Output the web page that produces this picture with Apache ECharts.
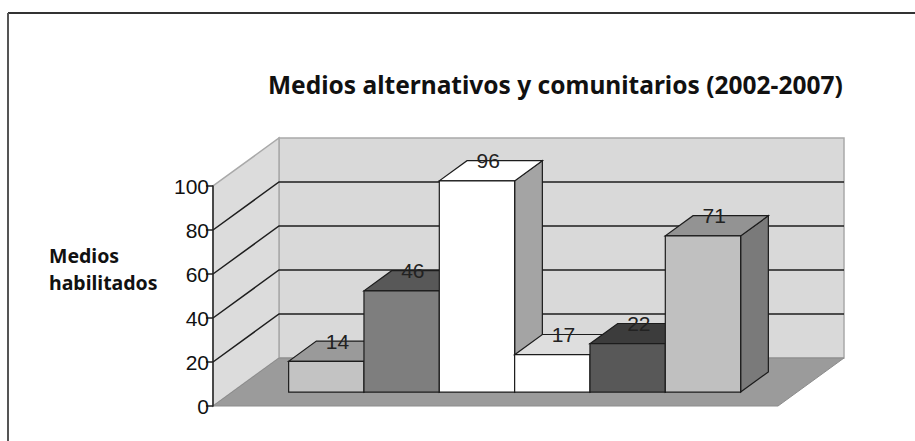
<!DOCTYPE html>
<html><head><meta charset="utf-8">
<script src="https://cdn.jsdelivr.net/npm/echarts@6/dist/echarts.min.js"></script>
<style>html,body{margin:0;padding:0;background:#fff}#c{width:915px;height:441px}</style>
</head><body><div id="c"></div>
<script>
// ---- data ----
const chartTitle = 'Medios alternativos y comunitarios (2002-2007)';
const yAxisTitle = ['Medios', 'habilitados'];
const categories = ['2002', '2003', '2004', '2005', '2006', '2007'];
const values = [14, 46, 96, 17, 22, 71];
const yMin = 0, yMax = 100, yStep = 20;

// ---- styles ----
const frontColors = ['#c3c3c3', '#7e7e7e', '#ffffff', '#ffffff', '#585858', '#c0c0c0'];
const topColors   = ['#9a9a9a', '#585858', '#ffffff', '#dedede', '#3c3c3c', '#939393'];
const sideColors  = ['#8a8a8a', '#4a4a4a', '#a4a4a4', '#b0b0b0', '#333333', '#7a7a7a'];

const DX = 66, DY = -48;      // projected offset of full depth
const D0 = 0.29, D1 = 0.71;   // bar depth range
const X_MIN = -1.25, X_MAX = 6.25;

function proj(api, x, v, d) {
  const p = api.coord([x, v]);
  return [p[0] + DX * d, p[1] + DY * d];
}

function renderFrame(params, api) {
  const ch = [];
  const A = proj(api, X_MIN, yMin, 0), B = proj(api, X_MIN, yMin, 1);
  const C = proj(api, X_MAX, yMin, 1), E = proj(api, X_MAX, yMin, 0);
  const At = proj(api, X_MIN, yMax, 0), Bt = proj(api, X_MIN, yMax, 1), Ct = proj(api, X_MAX, yMax, 1);
  ch.push({type: 'polygon', shape: {points: [B, Bt, Ct, C]}, style: {fill: '#d9d9d9', stroke: '#a9a9a9', lineWidth: 1.5}});
  ch.push({type: 'polygon', shape: {points: [A, At, Bt, B]}, style: {fill: '#dcdcdc', stroke: '#a9a9a9', lineWidth: 1.5}});
  ch.push({type: 'polygon', shape: {points: [A, B, C, E]}, style: {fill: '#9b9b9b', stroke: '#8c8c8c', lineWidth: 1}});
  for (let v = yMin + yStep; v < yMax; v += yStep) {
    const p0 = proj(api, X_MIN, v, 0), p1 = proj(api, X_MIN, v, 1), p2 = proj(api, X_MAX, v, 1);
    ch.push({type: 'polyline', shape: {points: [p0, p1, p2]}, style: {stroke: '#1e1e1e', lineWidth: 1.5, fill: null}});
  }
  return {type: 'group', children: ch};
}

function renderBar(params, api) {
  const i = api.value(0), v = api.value(1), k = params.dataIndex;
  const xl = i - 0.5, xr = i + 0.5;
  const f0 = proj(api, xl, 0, D0), f1 = proj(api, xr, 0, D0), f2 = proj(api, xr, v, D0), f3 = proj(api, xl, v, D0);
  const b1 = proj(api, xr, 0, D1), b2 = proj(api, xr, v, D1), b3 = proj(api, xl, v, D1);
  const st = {stroke: '#1c1c1c', lineWidth: 1.2};
  const ly = proj(api, i, v, D1)[1];
  const lx = proj(api, i, v, 0.46)[0];
  return {type: 'group', children: [
    {type: 'polygon', shape: {points: [f1, b1, b2, f2]}, style: Object.assign({fill: sideColors[k]}, st)},
    {type: 'polygon', shape: {points: [f3, f2, b2, b3]}, style: Object.assign({fill: topColors[k]}, st)},
    {type: 'polygon', shape: {points: [f0, f1, f2, f3]}, style: Object.assign({fill: frontColors[k]}, st)},
    {type: 'text', x: lx, y: ly, z2: 10, style: {text: String(v), fontSize: 21, fontFamily: 'Liberation Sans', fill: '#222', align: 'center', verticalAlign: 'middle'}}
  ]};
}

const chart = echarts.init(document.getElementById('c'), null, {renderer: 'svg'});
chart.setOption({
  animation: false,
  backgroundColor: '#ffffff',
  title: {
    text: chartTitle, left: 263, top: 67,
    textStyle: {fontFamily: 'Noto Sans', fontWeight: 'bold', fontSize: 24.5, color: '#111'}
  },
  grid: {left: 213, right: 137, top: 186, bottom: 35},
  xAxis: {type: 'value', min: X_MIN, max: X_MAX, show: false},
  yAxis: {
    type: 'value', min: yMin, max: yMax, interval: yStep, z: 10,
    axisLine: {show: true, onZero: false, lineStyle: {color: '#222', width: 1.5}},
    axisTick: {show: true, length: 7, lineStyle: {color: '#222', width: 1.5}},
    axisLabel: {margin: 4, fontSize: 21, fontFamily: 'Liberation Sans', color: '#111'},
    splitLine: {show: false}
  },
  graphic: [
    {type: 'line', shape: {x1: 8, y1: 13, x2: 915, y2: 13}, style: {stroke: '#333', lineWidth: 2}},
    {type: 'line', shape: {x1: 8, y1: 13, x2: 8, y2: 441}, style: {stroke: '#555', lineWidth: 2}},
    {type: 'text', left: 49, top: 242, style: {text: yAxisTitle.join('\n'), fontFamily: 'Noto Sans', fontWeight: 'bold', fontSize: 19.5, lineHeight: 27, fill: '#111'}}
  ],
  series: [
    {type: 'custom', z: 1, renderItem: renderFrame, data: [[0, 0]], silent: true},
    {type: 'custom', z: 2, renderItem: renderBar, name: 'Medios habilitados',
     data: values.map((v, i) => ({name: categories[i], value: [i, v]}))}
  ]
});
</script></body></html>
